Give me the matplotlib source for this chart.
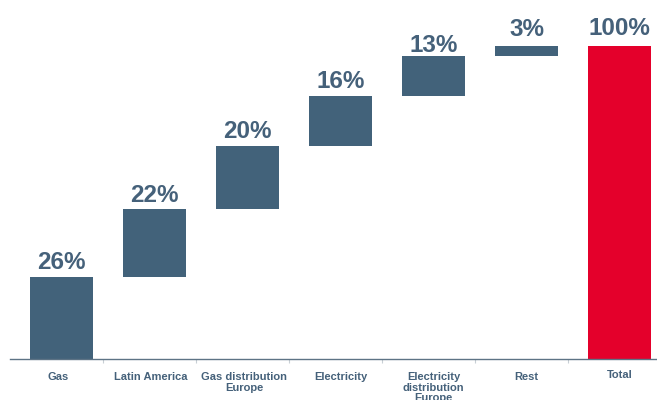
import numpy as np
import matplotlib
matplotlib.use("Agg")
import matplotlib.pyplot as plt

plt.rcParams['font.family'] = ['Liberation Sans', 'DejaVu Sans']

categories = ["Gas", "Latin America", "Gas distribution\nEurope", "Electricity",
              "Electricity\ndistribution\nEurope", "Rest", "Total"]
shares = [26, 22, 20, 16, 13, 3]
total = 100
value_labels = ["26%", "22%", "20%", "16%", "13%", "3%", "100%"]

BAR_COLOR = "#42627a"
TOTAL_COLOR = "#e4002b"
TEXT_COLOR = "#45617a"
# gap between bar top and its label, in points
label_gap = [6, 5, 6, 6, 3, 7.5, 8]

fig = plt.figure(figsize=(6.57, 4.0), dpi=100)
ax = fig.add_axes([10 / 657, 41.5 / 400, 1 - 10 / 657, 1 - 41.5 / 400])

x = np.arange(len(categories))
bottoms = np.concatenate([[0], np.cumsum(shares)[:-1]])
heights = list(shares) + [total]
bottoms = list(bottoms) + [0]
colors = [BAR_COLOR] * len(shares) + [TOTAL_COLOR]

width = 63 / 93
ax.bar(x, heights, bottom=bottoms, width=width, color=colors, linewidth=0)

for xi, b, h, lab, gap in zip(x, bottoms, heights, value_labels, label_gap):
    ax.annotate(lab, (xi, b + h), xytext=(0, gap), textcoords="offset points",
                ha="center", va="baseline", fontsize=17.5, fontweight="bold",
                color=TEXT_COLOR)

ax.set_xlim(-0.554, 6.40)
ax.set_ylim(0, 114.9)

for s in ["top", "right", "left"]:
    ax.spines[s].set_visible(False)
ax.spines["bottom"].set_color("#5d7385")
ax.spines["bottom"].set_linewidth(1.0)
ax.set_yticks([])

# separators between categories
ax.set_xticks(x[:-1] + 0.446)
ax.set_xticklabels([])
ax.tick_params(axis="x", length=3, width=0.8, color="#c8cfd5", direction="out")

for xi, cat in zip(x, categories):
    dy = -8.0 if cat == "Total" else -10.0
    ax.annotate(cat, (xi, 0), xytext=(-2.5 if xi < 3 else 0, dy),
                textcoords="offset points", ha="center", va="top",
                fontsize=8, fontweight="bold", color=TEXT_COLOR,
                linespacing=1.05, annotation_clip=False)

fig.savefig("out.png", dpi=100)
